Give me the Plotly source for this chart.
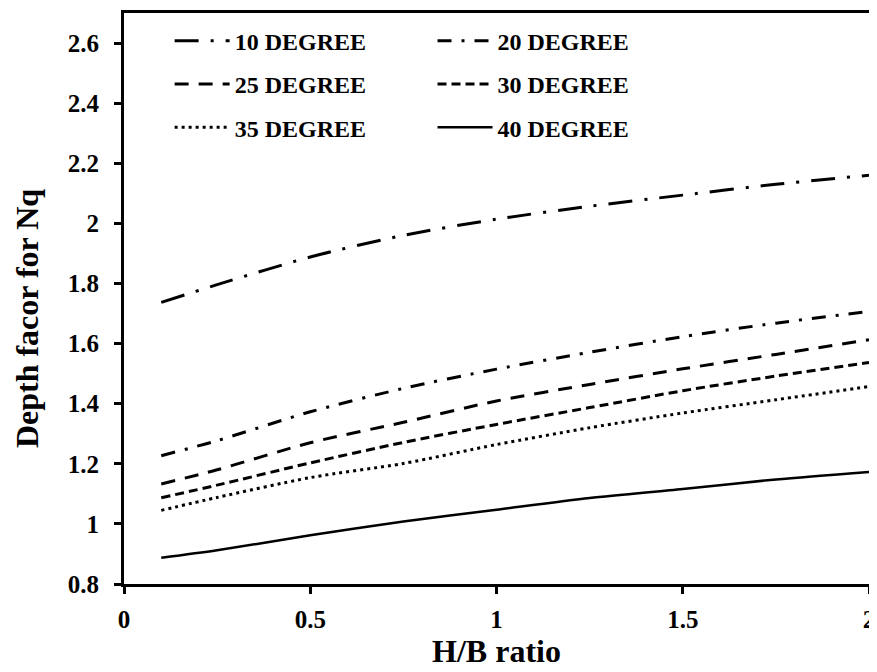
import plotly.graph_objects as go

hb_ratio = [0.1, 0.25, 0.5, 0.75, 1.0, 1.25, 1.5, 1.75, 2.0]

deg10 = [1.737, 1.796, 1.888, 1.960, 2.014, 2.057, 2.094, 2.130, 2.160]
deg20 = [1.227, 1.277, 1.373, 1.451, 1.515, 1.571, 1.623, 1.668, 1.707]
deg25 = [1.133, 1.180, 1.270, 1.338, 1.409, 1.464, 1.516, 1.564, 1.613]
deg30 = [1.087, 1.129, 1.203, 1.271, 1.331, 1.387, 1.443, 1.492, 1.537]
deg35 = [1.045, 1.088, 1.154, 1.201, 1.264, 1.320, 1.369, 1.413, 1.457]
deg40 = [0.887, 0.912, 0.962, 1.008, 1.047, 1.086, 1.116, 1.148, 1.173]

series_names = ["10 DEGREE", "20 DEGREE", "25 DEGREE", "30 DEGREE", "35 DEGREE", "40 DEGREE"]
series_values = [deg10, deg20, deg25, deg30, deg35, deg40]
dashes = ["24px,12px,3px,12px", "14px,10px,3px,10px", "14px,10px", "9px,5px", "3px,4px", "solid"]
widths = [3, 3, 3, 3, 3, 2.5]
legend_column = ["legend", "legend2", "legend", "legend2", "legend", "legend2"]

x_ticks = [0, 0.5, 1, 1.5, 2]
y_ticks = [0.8, 1.0, 1.2, 1.4, 1.6, 1.8, 2.0, 2.2, 2.4, 2.6]

FONT = "Liberation Serif"
TXT = dict(family=FONT, size=24, color="black", weight="bold")
TICK = dict(family=FONT, size=25, color="black", weight="bold")
TITLE = dict(family=FONT, size=32, color="black", weight="bold")

fig = go.Figure()
for name, vals, dash, w, lg in zip(series_names, series_values, dashes, widths, legend_column):
    fig.add_trace(go.Scatter(
        x=hb_ratio, y=vals, mode="lines", name=name,
        legend=lg, legendgroup=name,
        line=dict(color="black", width=w, dash=dash, shape="spline", smoothing=0.8),
    ))

W, H = 869, 664
ml, mr, mt, mb = 116, 2, 5, 88
pw = W - ml - mr

def legend_box(x_px):
    return dict(
        orientation="v", x=(x_px - 8 - ml) / pw, y=0.99,
        xanchor="left", yanchor="top",
        bgcolor="rgba(0,0,0,0)", borderwidth=0,
        font=TXT, tracegroupgap=9, itemwidth=55,
        traceorder="grouped",
    )

fig.update_layout(
    width=W, height=H,
    margin=dict(l=ml, r=mr, t=mt, b=mb),
    paper_bgcolor="white", plot_bgcolor="white",
    font=TXT,
    showlegend=True,
    legend=legend_box(170),
    legend2=legend_box(435),
    xaxis=dict(
        range=[0, 2], tickvals=x_ticks, ticktext=["%g" % v for v in x_ticks],
        showgrid=False, zeroline=False,
        showline=True, linecolor="black", linewidth=3, mirror=True,
        ticks="outside", ticklen=7, tickwidth=2.5, tickcolor="black",
        ticklabelstandoff=4, ticklabeloverflow="allow",
        tickfont=TICK,
        title=dict(text="H/B ratio", standoff=8, font=TITLE),
    ),
    yaxis=dict(
        range=[0.8, 2.7], tickvals=y_ticks,
        ticktext=["%g" % v for v in y_ticks],
        showgrid=False, zeroline=False,
        showline=True, linecolor="black", linewidth=3, mirror=True,
        ticks="outside", ticklen=7, tickwidth=2.5, tickcolor="black",
        ticklabelstandoff=10, ticklabeloverflow="allow",
        tickfont=TICK,
        title=dict(text="Depth facor for Nq" + "&nbsp;" * 5, standoff=20, font=TITLE),
    ),
)

fig.write_html("out.html")
